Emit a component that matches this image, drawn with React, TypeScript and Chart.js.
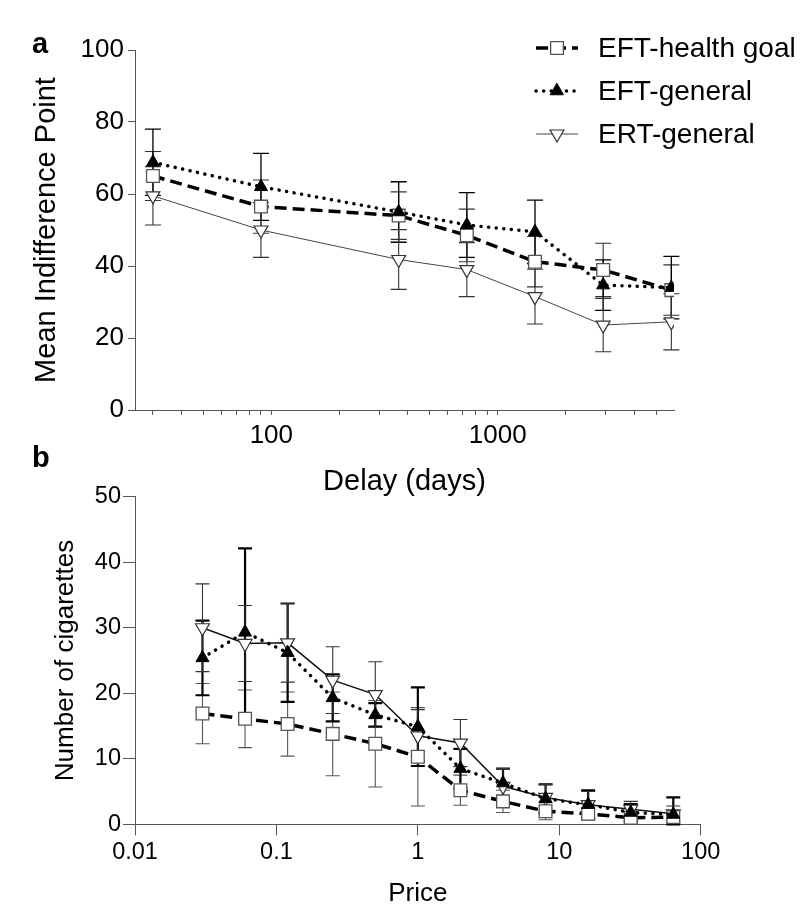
import React, { useEffect, useRef } from 'react';
import { Chart, registerables } from 'chart.js';
import { drawPoint } from 'chart.js/helpers';
Chart.register(...registerables);

const FONT = "'Liberation Sans', Arial, Helvetica, sans-serif";

// ---------- Panel a ----------
const delayDays = [30, 90, 365, 730, 1460, 2920, 5840];
const eftHealthA = [65, 56.5, 54, 48.5, 41.2, 38.9, 33.3];
const eftHealthAErr = [6.8, 7.4, 6.6, 7.3, 7.0, 7.4, 7.0];
const eftGeneralA = [68.8, 62, 55, 51.4, 49.5, 34.7, 34];
const eftGeneralAErr = [9.2, 9.3, 8.4, 9.0, 8.8, 7.0, 8.7];
const ertGeneralA = [59.5, 50, 41.8, 39, 31.5, 23.6, 24.5];
const ertGeneralAErr = [8.1, 7.6, 8.3, 7.5, 7.6, 7.4, 7.8];
const delayTicks = [30, 40, 50, 60, 70, 80, 90, 100, 200, 300, 400, 500, 600, 700, 800, 900, 1000, 2000, 3000, 4000, 5000];
const delayLabels = [100, 1000];

// ---------- Panel b ----------
const prices = [0.03, 0.06, 0.12, 0.25, 0.5, 1, 2, 4, 8, 16, 32, 64];
const eftHealthB = [16.9, 16.1, 15.3, 13.8, 12.3, 10.3, 5.2, 3.5, 2.0, 1.6, 1.0, 1.1];
const eftHealthBErr = [4.6, 4.4, 4.9, 6.4, 6.6, 7.5, 2.3, 1.7, 1.3, 0.9, 0.8, 0.8];
const eftGeneralB = [25.4, 29.3, 26.2, 19.3, 16.7, 14.9, 8.5, 6.3, 3.9, 3.0, 1.8, 1.5];
const eftGeneralBErr = [5.7, 12.8, 7.5, 3.6, 1.8, 6.0, 3.0, 2.2, 2.2, 2.2, 1.3, 2.6];
const ertGeneralB = [30.0, 27.6, 27.7, 22.0, 19.8, 13.5, 12.4, 5.8, 4.1, 3.0, 2.3, 1.6];
const ertGeneralBErr = [6.7, 5.8, 6.0, 5.1, 5.0, 4.0, 3.6, 2.7, 2.0, 2.0, 1.2, 1.2];
const priceTicks = [0.01, 0.1, 1, 10, 100];

const seriesNames = ['EFT-health goal', 'EFT-general', 'ERT-general'];

const toPts = (xs: number[], ys: number[]) => xs.map((x, i) => ({ x, y: ys[i] }));

const errorBarPlugin = {
  id: 'errbars',
  beforeDatasetsDraw(chart: any) {
    const { ctx } = chart;
    const ys = chart.scales.y;
    chart.data.datasets.forEach((ds: any, i: number) => {
      const meta = chart.getDatasetMeta(i);
      ctx.save();
      ctx.strokeStyle = ds.errColor;
      ctx.lineWidth = ds.errWidth;
      const cap = ds.errCap;
      meta.data.forEach((pt: any, j: number) => {
        const d = ds.data[j];
        const e = ds.errors[j];
        const x = pt.x;
        const yT = ys.getPixelForValue(d.y + e);
        const yB = ys.getPixelForValue(Math.max(d.y - e, 0));
        ctx.beginPath();
        ctx.moveTo(x, yT); ctx.lineTo(x, yB);
        ctx.moveTo(x - cap, yT); ctx.lineTo(x + cap, yT);
        ctx.moveTo(x - cap, yB); ctx.lineTo(x + cap, yB);
        ctx.stroke();
      });
      ctx.restore();
    });
  },
};

const panelLabelPlugin = (label: string, x: number, y: number) => ({
  id: 'panelLabel' + label,
  afterDraw(chart: any) {
    const { ctx } = chart;
    ctx.save();
    ctx.font = `bold 29px ${FONT}`;
    ctx.fillStyle = '#000';
    ctx.textBaseline = 'alphabetic';
    ctx.textAlign = 'left';
    ctx.fillText(label, x, y);
    ctx.restore();
  },
});

const legendPlugin = {
  id: 'customLegend',
  afterDraw(chart: any) {
    const { ctx } = chart;
    const rows = [48, 91, 134];
    chart.data.datasets.forEach((ds: any, i: number) => {
      const y = rows[i];
      ctx.save();
      ctx.strokeStyle = ds.borderColor;
      ctx.lineWidth = ds.borderWidth;
      ctx.lineCap = ds.borderCapStyle || 'butt';
      ctx.setLineDash(ds.borderDash || []);
      ctx.beginPath();
      ctx.moveTo(536, y);
      ctx.lineTo(578, y);
      ctx.stroke();
      ctx.setLineDash([]);
      ctx.fillStyle = ds.pointBackgroundColor;
      ctx.strokeStyle = ds.pointBorderColor;
      ctx.lineWidth = ds.pointBorderWidth;
      drawPoint(ctx, { pointStyle: ds.pointStyle, rotation: ds.pointRotation || 0, radius: ds.pointRadius, borderWidth: ds.pointBorderWidth }, 557, y);
      ctx.font = `28px ${FONT}`;
      ctx.fillStyle = '#000';
      ctx.textBaseline = 'middle';
      ctx.textAlign = 'left';
      ctx.fillText(seriesNames[i], 598, y + 1);
      ctx.restore();
    });
  },
};

function makeDatasets(h: number[], hE: number[], g: number[], gE: number[], r: number[], rE: number[], xs: number[], panel: 'a' | 'b') {
  const big = panel === 'b';
  return [
    {
      label: seriesNames[0],
      data: toPts(xs, h),
      errors: hE,
      errColor: big ? '#555' : '#333',
      errWidth: 1.1,
      errCap: big ? 7 : 8,
      borderColor: '#000',
      borderWidth: 3.5,
      borderDash: [12, 6],
      pointStyle: 'rect',
      pointRadius: 9,
      pointBackgroundColor: '#fff',
      pointBorderColor: '#555',
      pointBorderWidth: 1.3,
      order: 1,
      tension: 0,
    },
    {
      label: seriesNames[1],
      data: toPts(xs, g),
      errors: gE,
      errColor: '#000',
      errWidth: big ? 2.2 : 1.3,
      errCap: big ? 7 : 8,
      borderColor: '#000',
      borderWidth: 3.5,
      borderDash: [0.1, 7.5],
      borderCapStyle: 'round',
      pointStyle: 'triangle',
      pointRadius: 7.5,
      pointBackgroundColor: '#000',
      pointBorderColor: '#000',
      pointBorderWidth: 1,
      order: 0,
      tension: 0,
    },
    {
      label: seriesNames[2],
      data: toPts(xs, r),
      errors: rE,
      errColor: '#333',
      errWidth: 1.1,
      errCap: big ? 7 : 8,
      borderColor: big ? '#111' : '#444',
      borderWidth: big ? 1.5 : 1,
      pointStyle: 'triangle',
      pointRotation: 180,
      pointRadius: 8,
      pointBackgroundColor: '#fff',
      pointBorderColor: '#333',
      pointBorderWidth: 1.2,
      order: 2,
      tension: 0,
    },
  ];
}

export default function App() {
  const refA = useRef<HTMLCanvasElement>(null);
  const refB = useRef<HTMLCanvasElement>(null);

  useEffect(() => {
    const axisColor = '#555';
    const chartA = new Chart(refA.current!, {
      type: 'line',
      data: { datasets: makeDatasets(eftHealthA, eftHealthAErr, eftGeneralA, eftGeneralAErr, ertGeneralA, ertGeneralAErr, delayDays, 'a') as any },
      options: {
        responsive: false,
        animation: false,
        layout: { padding: { top: 50, right: 126, left: 0, bottom: 0 } },
        plugins: { legend: { display: false }, tooltip: { enabled: false } },
        scales: {
          x: {
            type: 'logarithmic',
            min: 25,
            max: 6000,
            afterBuildTicks: (s: any) => { s.ticks = delayTicks.map((v) => ({ value: v })); },
            afterFit: (s: any) => { s.height = 90; },
            grid: { display: true, drawOnChartArea: false, drawTicks: true, tickLength: 5, color: axisColor },
            border: { display: true, color: axisColor, width: 1 },
            ticks: {
              autoSkip: false,
              maxRotation: 0,
              padding: 5,
              color: '#000',
              font: { family: FONT, size: 26 },
              callback: (v: any) => (delayLabels.includes(Number(v)) ? String(v) : ''),
            },
            title: { display: true, text: 'Delay (days)', color: '#000', font: { family: FONT, size: 29 }, padding: { top: 0, bottom: 1 } },
          },
          y: {
            min: 0,
            max: 100,
            afterFit: (s: any) => { s.width = 135; },
            grid: { display: true, drawOnChartArea: false, drawTicks: true, tickLength: 7, color: axisColor },
            border: { display: true, color: axisColor, width: 1 },
            ticks: { stepSize: 20, padding: 4, color: '#000', font: { family: FONT, size: 26 } },
            title: { display: true, text: 'Mean Indifference Point', color: '#000', font: { family: FONT, size: 29 }, padding: { top: 30, bottom: 0 } },
          },
        },
      },
      plugins: [errorBarPlugin, legendPlugin, panelLabelPlugin('a', 32, 53)],
    });

    const chartB = new Chart(refB.current!, {
      type: 'line',
      data: { datasets: makeDatasets(eftHealthB, eftHealthBErr, eftGeneralB, eftGeneralBErr, ertGeneralB, ertGeneralBErr, prices, 'b') as any },
      options: {
        responsive: false,
        animation: false,
        layout: { padding: { top: 56.7, right: 99.3, left: 0, bottom: 0 } },
        plugins: { legend: { display: false }, tooltip: { enabled: false } },
        scales: {
          x: {
            type: 'logarithmic',
            min: 0.01,
            max: 100,
            afterBuildTicks: (s: any) => { s.ticks = priceTicks.map((v) => ({ value: v })); },
            afterFit: (s: any) => { s.height = 97.7; },
            grid: { display: true, drawOnChartArea: false, drawTicks: true, tickLength: 11, color: axisColor },
            border: { display: true, color: axisColor, width: 1 },
            ticks: {
              autoSkip: false,
              maxRotation: 0,
              padding: 3,
              color: '#000',
              font: { family: FONT, size: 23.5 },
              callback: (v: any) => String(v),
            },
            title: { display: true, text: 'Price', color: '#000', font: { family: FONT, size: 26 }, padding: { top: 0, bottom: 13 } },
          },
          y: {
            min: 0,
            max: 50,
            afterFit: (s: any) => { s.width = 135; },
            grid: { display: true, drawOnChartArea: false, drawTicks: true, tickLength: 12, color: axisColor },
            border: { display: true, color: axisColor, width: 1 },
            ticks: { stepSize: 10, padding: 2, color: '#000', font: { family: FONT, size: 23.5 } },
            title: { display: true, text: 'Number of cigarettes', color: '#000', font: { family: FONT, size: 26 }, padding: { top: 50, bottom: 0 } },
          },
        },
      },
      plugins: [errorBarPlugin, panelLabelPlugin('b', 32, 27)],
    });

    return () => {
      chartA.destroy();
      chartB.destroy();
    };
  }, []);

  return (
    <div style={{ position: 'absolute', left: 0, top: 0, width: 800, height: 922, background: '#fff' }}>
      <canvas ref={refB} width={800} height={482} style={{ position: 'absolute', left: 0, top: 440 }} />
      <canvas ref={refA} width={800} height={500} style={{ position: 'absolute', left: 0, top: 0 }} />
    </div>
  );
}
